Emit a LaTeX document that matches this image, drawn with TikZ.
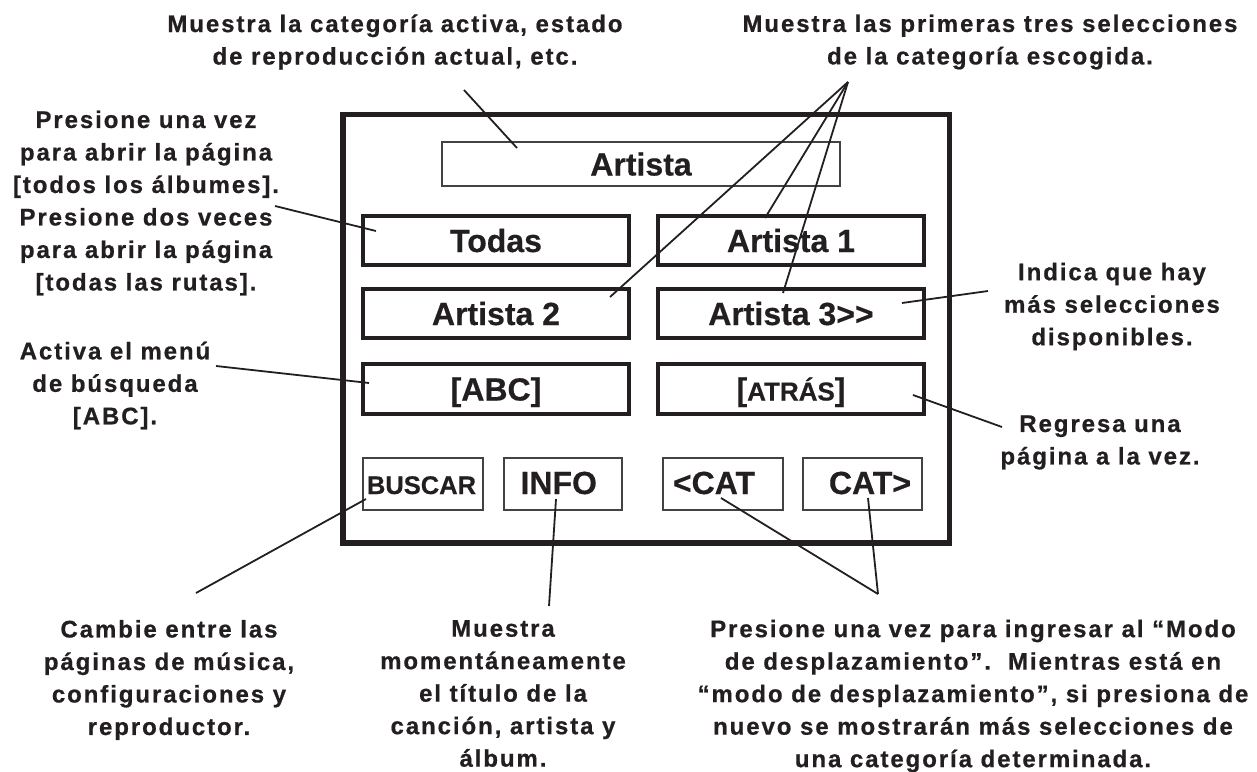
\documentclass[tikz,border=0pt]{standalone}
\usepackage{fontspec}
\setmainfont[FakeBold=0.5]{Liberation Sans}
\newfontfamily\labfont[LetterSpace=8,FakeBold=0.7]{Liberation Sans}
\definecolor{ink}{HTML}{231F20}
\tikzset{
  lab/.style={font=\labfont\bfseries\fontsize{24}{32.5}\selectfont, align=center, text=ink, inner sep=0pt},
  frm/.style={draw=ink, line width=5.5pt, rectangle, inner sep=0pt},
  bigbox/.style={draw=ink, line width=3.3pt, rectangle, inner sep=0pt, minimum width=266pt, minimum height=49pt,
    font=\bfseries\fontsize{32}{36}\selectfont, text=ink, text height=23pt, text depth=0pt},
  thinbox/.style={draw=ink!85, line width=1.2pt, rectangle, inner sep=0pt, minimum height=52pt},
  btxt/.style={font=\bfseries\fontsize{32}{36}\selectfont, text=ink, inner sep=0pt, text height=23pt, text depth=0pt},
  conn/.style={draw=ink, line width=1.8pt}
}
\begin{document}
\begin{tikzpicture}[x=1pt,y=-1pt]
\useasboundingbox (0,0) rectangle (1257,771);
% frame
\node[frm, minimum width=606.5pt, minimum height=428.5pt] (frame) at (646.25,328.75) {};
% title box
\node[thinbox, minimum width=398pt, minimum height=44pt, font=\bfseries\fontsize{32}{36}\selectfont, text=ink, text height=23pt, text depth=0pt] (title) at (641,164) {Artista};
% big buttons
\node[bigbox] (todas) at (496,240.5) {Todas};
\node[bigbox] (art1) at (791,240.5) {Artista 1};
\node[bigbox] (art2) at (496,313.5) {Artista 2};
\node[bigbox] (art3) at (791,313.5) {Artista 3{>}{>}};
\node[bigbox, minimum height=50pt] (abc) at (496,389) {[ABC]};
\node[bigbox, minimum height=50pt] (atras) at (791,389) {[{\fontsize{26}{30}\selectfont ATRÁS}]};
% small buttons
\node[thinbox, minimum width=120pt] (buscar) at (423,484) {};
\node[thinbox, minimum width=118pt] (info) at (563,484) {};
\node[thinbox, minimum width=120pt] (catl) at (723,484) {};
\node[thinbox, minimum width=119pt] (catr) at (862.5,484) {};
\node[btxt, font=\bfseries\fontsize{25.5}{30}\selectfont, text height=18pt] (tbuscar) at (421.5,485) {BUSCAR};
\node[btxt] (tinfo) at (558.7,482.5) {INFO};
\node[btxt] (tcatl) at (714,482.5) {{<}CAT};
\node[btxt] (tcatr) at (870,482.5) {CAT{>}};
% labels
\node[lab] (lTL) at (395,42) {Muestra la categoría activa, estado\\de reproducción actual, etc.};
\node[lab] (lTR) at (990,42) {Muestra las primeras tres selecciones\\de la categoría escogida.};
\node[lab] (lL1) at (146,203) {Presione una vez\\para abrir la página\\{[}todos los álbumes{]}.\\Presione dos veces\\para abrir la página\\{[}todas las rutas{]}.};
\node[lab] (lL2) at (115,385.5) {Activa el menú\\de búsqueda\\{[}ABC{]}.};
\node[lab] (lR1) at (1112,306.5) {Indica que hay\\más selecciones\\disponibles.};
\node[lab] (lR2) at (1100,442.5) {Regresa una\\página a la vez.};
\node[lab] (lB1) at (169,680) {Cambie entre las\\páginas de música,\\configuraciones y\\reproductor.};
\node[lab] (lB2) at (503,693.5) {Muestra\\momentáneamente\\el título de la\\canción, artista y\\álbum.};
\node[lab] (lB3) at (973,696) {Presione una vez para ingresar al “Modo\\de desplazamiento”.\ \ Mientras está en\\“modo de desplazamiento”, si presiona de\\nuevo se mostrarán más selecciones de\\una categoría determinada.};
% connector end points
\coordinate (pTL) at (464,90);
\coordinate (pTR) at (848,82);
\coordinate (pL1) at (275,206);
\coordinate (pL2) at (216,366);
\coordinate (pR1) at (988,291);
\coordinate (pR2) at (1002,427);
\coordinate (pB1) at (196,593);
\coordinate (pB2) at (549,606);
\coordinate (pB3) at (878,594);
\coordinate (eTitle) at (517,148);
\coordinate (eArt1) at (765,218);
\coordinate (eArt3) at (783,293);
\coordinate (eArt2) at (610,297);
\coordinate (eTodas) at (376,231);
\coordinate (eAbc) at (369,383);
\coordinate (eArt3b) at (902,303);
\coordinate (eAtras) at (913,395);
\coordinate (eBuscar) at (366,499);
\coordinate (eInfo) at (556,499);
\coordinate (eCatl) at (721,498);
\coordinate (eCatr) at (868,498);
% connectors
\draw[conn] (pTL) -- (eTitle);
\draw[conn] (pTR) -- (eArt1);
\draw[conn] (pTR) -- (eArt3);
\draw[conn] (pTR) -- (eArt2);
\draw[conn] (pL1) -- (eTodas);
\draw[conn] (pL2) -- (eAbc);
\draw[conn] (pR1) -- (eArt3b);
\draw[conn] (pR2) -- (eAtras);
\draw[conn] (pB1) -- (eBuscar);
\draw[conn] (pB2) -- (eInfo);
\draw[conn] (pB3) -- (eCatl);
\draw[conn] (pB3) -- (eCatr);
\end{tikzpicture}
\end{document}
